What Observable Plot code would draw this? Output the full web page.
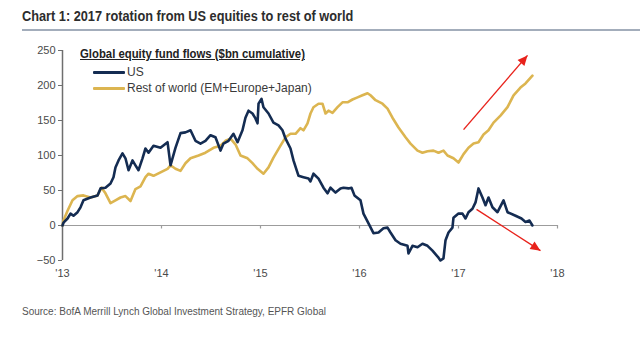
<!DOCTYPE html>
<html><head><meta charset="utf-8">
<script src="https://cdn.jsdelivr.net/npm/d3@7"></script>
<script src="https://cdn.jsdelivr.net/npm/@observablehq/plot@0.6"></script>
<style>
body{margin:0;background:#fff;font-family:"Liberation Sans",Arial,sans-serif;}
#wrap{position:relative;width:640px;height:348px;overflow:hidden;background:#fff;}
#title{position:absolute;left:22px;top:8px;font-size:14px;font-weight:bold;color:#2d2d2d;white-space:nowrap;transform:scaleX(0.91);transform-origin:0 50%;}
#hr{position:absolute;left:22px;right:0;top:29px;height:2px;background:#a3adbb;}
#chart{position:absolute;left:0;top:40px;}
.lg{position:absolute;white-space:nowrap;font-size:12px;color:#3a3a3a;line-height:14px;}
.lt{font-weight:bold;text-decoration:underline;color:#222;transform:scaleX(0.945);transform-origin:0 50%;}
.sw{position:absolute;height:3px;width:32px;border-radius:1px;}
#caption{position:absolute;left:22px;top:306px;font-size:10px;color:#555;white-space:nowrap;}
</style></head>
<body>
<div id="wrap">
  <div id="title">Chart 1: 2017 rotation from US equities to rest of world</div>
  <div id="hr"></div>
  <div id="chart"></div>
  <div class="lg lt" style="left:80px;top:47px;">Global equity fund flows ($bn cumulative)</div>
  <div class="sw" style="left:93px;top:70.5px;background:#142c52"></div>
  <div class="lg" style="left:127px;top:65px;">US</div>
  <div class="sw" style="left:93px;top:86.5px;background:#dcb550"></div>
  <div class="lg" style="left:127px;top:81px;">Rest of world (EM+Europe+Japan)</div>
  <div id="caption">Source: BofA Merrill Lynch Global Investment Strategy, EPFR Global</div>
</div>
<script>
// US cumulative flows ($bn): decimal-year dates and values
const usDates = [2013.000,2013.010,2013.051,2013.081,2013.111,2013.152,2013.182,2013.212,2013.283,2013.354,2013.384,2013.434,2013.485,2013.515,2013.535,2013.566,2013.606,2013.636,2013.667,2013.707,2013.737,2013.768,2013.808,2013.838,2013.869,2013.919,2013.990,2014.061,2014.091,2014.141,2014.192,2014.242,2014.293,2014.343,2014.394,2014.444,2014.495,2014.545,2014.596,2014.626,2014.677,2014.727,2014.768,2014.818,2014.848,2014.879,2014.919,2014.949,2014.970,2014.980,2015.010,2015.030,2015.081,2015.131,2015.182,2015.222,2015.253,2015.303,2015.333,2015.384,2015.434,2015.485,2015.505,2015.535,2015.586,2015.636,2015.677,2015.707,2015.758,2015.808,2015.838,2015.889,2015.919,2015.949,2016.010,2016.040,2016.091,2016.141,2016.192,2016.242,2016.283,2016.313,2016.364,2016.414,2016.485,2016.495,2016.535,2016.586,2016.636,2016.687,2016.737,2016.798,2016.818,2016.848,2016.869,2016.899,2016.939,2016.949,2017.000,2017.040,2017.071,2017.101,2017.141,2017.172,2017.202,2017.242,2017.273,2017.303,2017.343,2017.394,2017.455,2017.495,2017.576,2017.636,2017.677,2017.717,2017.747];
const usValues = [0,4,10,17,14,19,26,36,40,43,53,54,60,69,83,93,103,96,79,93,86,79,96,110,104,114,111,119,86,111,132,133,136,121,117,121,129,126,107,117,121,131,119,136,154,164,160,153,146,174,181,169,160,147,143,136,124,110,93,71,69,67,63,74,67,54,46,54,47,53,54,53,54,43,36,17,3,-11,-10,-4,-3,-10,-21,-26,-29,-40,-29,-31,-26,-29,-36,-46,-50,-47,-21,-10,-3,11,17,17,10,19,24,33,53,40,29,40,26,19,36,19,14,10,5,7,0];

// Rest of world (EM+Europe+Japan) cumulative flows ($bn)
const rowDates = [2013.000,2013.010,2013.051,2013.101,2013.152,2013.212,2013.283,2013.354,2013.394,2013.434,2013.485,2013.535,2013.586,2013.636,2013.687,2013.737,2013.788,2013.838,2013.869,2013.919,2013.990,2014.061,2014.091,2014.141,2014.192,2014.242,2014.293,2014.374,2014.444,2014.525,2014.596,2014.646,2014.697,2014.747,2014.798,2014.869,2014.919,2014.970,2015.030,2015.081,2015.131,2015.202,2015.253,2015.303,2015.354,2015.404,2015.434,2015.475,2015.505,2015.535,2015.586,2015.626,2015.657,2015.687,2015.727,2015.778,2015.828,2015.879,2015.929,2015.980,2016.030,2016.081,2016.111,2016.162,2016.232,2016.283,2016.333,2016.394,2016.465,2016.515,2016.586,2016.636,2016.687,2016.747,2016.798,2016.848,2016.889,2016.949,2017.000,2017.051,2017.101,2017.152,2017.202,2017.253,2017.303,2017.354,2017.424,2017.495,2017.556,2017.626,2017.677,2017.747];
const rowValues = [0,7,21,36,42,43,40,43,54,46,32,36,40,42,35,52,56,69,74,71,76,81,86,81,78,89,96,100,104,111,114,121,124,116,100,96,89,81,74,83,97,114,126,131,131,139,136,146,160,169,174,174,160,164,161,169,176,176,180,183,186,189,186,179,174,167,154,140,126,117,107,104,106,107,104,107,100,96,90,102,111,117,119,130,136,147,157,169,186,197,203,214];

// Axis ticks
const yTicks = [-50, 0, 50, 100, 150, 200, 250];
const yearTicks = [2013, 2014, 2015, 2016, 2017, 2018];

// Annotation arrows (start -> end, in data units)
const arrowX1 = [2017.051, 2017.182];
const arrowY1 = [137, 23];
const arrowX2 = [2017.697, 2017.828];
const arrowY2 = [243, -36];

const us = usDates.map((t, i) => ({t, v: usValues[i]}));
const row = rowDates.map((t, i) => ({t, v: rowValues[i]}));
const arrows = arrowX1.map((x1, i) => ({x1, y1: arrowY1[i], x2: arrowX2[i], y2: arrowY2[i]}));

function filledArrow(color) {
  const m = d3.create("svg:marker")
    .attr("viewBox", "-10 -5 10 10")
    .attr("refX", 0).attr("refY", 0)
    .attr("markerUnits", "userSpaceOnUse")
    .attr("markerWidth", 11).attr("markerHeight", 10)
    .attr("orient", "auto")
    .attr("fill", color).attr("stroke", "none");
  m.append("path").attr("d", "M-10,-4.5L0,0L-10,4.5Z");
  return m.node();
}

const font = '"Liberation Sans","Arial",sans-serif';
const chart = Plot.plot({
  width: 640, height: 250,
  marginTop: 10, marginBottom: 30, marginLeft: 62, marginRight: 83,
  x: {domain: [2013, 2018]},
  y: {domain: [-50, 250]},
  style: {fontFamily: font, fontSize: "11px", color: "#4a4a4a", background: "#fff", overflow: "visible"},
  marks: [
    Plot.ruleY([0], {stroke: "#9c9c9c", strokeWidth: 1.2}),
    Plot.ruleX(yearTicks.slice(1), {y1: 0, y2: -5, stroke: "#9c9c9c", strokeWidth: 1.2}),
    Plot.ruleX([2013], {stroke: "#6f6f6f", strokeWidth: 1.5}),
    Plot.axisY({ticks: yTicks, tickSize: 4, tickPadding: 3, label: null, stroke: "#6f6f6f"}),
    Plot.axisX({ticks: yearTicks, tickSize: 0, tickPadding: 9, label: null, tickFormat: d => "'" + String(d).slice(2)}),
    Plot.line(row, {x: "t", y: "v", stroke: "#dcb550", strokeWidth: 2.6, strokeLinejoin: "round"}),
    Plot.line(us, {x: "t", y: "v", stroke: "#142c52", strokeWidth: 2.6, strokeLinejoin: "round"}),
    Plot.link(arrows, {x1: "x1", y1: "y1", x2: "x2", y2: "y2", stroke: "#e8221b", strokeWidth: 1.4, markerEnd: filledArrow})
  ]
});
document.getElementById("chart").appendChild(chart);
</script>
</body></html>
